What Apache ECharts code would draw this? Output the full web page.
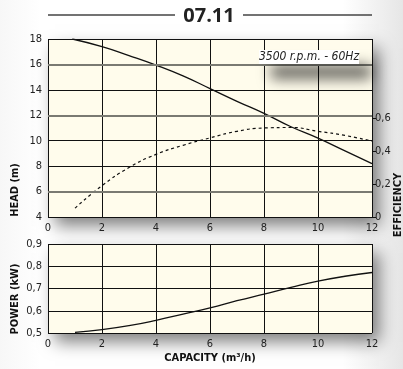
<!DOCTYPE html>
<html>
<head>
<meta charset="utf-8">
<script src="https://cdn.jsdelivr.net/npm/echarts@6/dist/echarts.min.js"></script>
<style>
  html, body { margin: 0; padding: 0; background: #fff; }
  #main { width: 403px; height: 369px; }
</style>
</head>
<body>
<div id="main"></div>
<script>
// capacity (m3/h) points
var capacity = [0.9, 2, 3, 4, 5, 6, 7, 8, 9, 10, 11, 12];
var head = [18, 17.4, 16.7, 15.95, 15.1, 14.1, 13.1, 12.15, 11.1, 10.2, 9.2, 8.2];
var effCap = [1, 2, 3, 4, 5, 6, 7, 8, 9, 10, 11, 12];
var efficiency = [0.054, 0.19, 0.3, 0.38, 0.435, 0.48, 0.52, 0.54, 0.543, 0.52, 0.495, 0.46];
var effTicks = [0, 0.2, 0.4, 0.6];
var powerCap = [1, 2, 3, 4, 5, 6, 7, 8, 9, 10, 11, 12];
var power = [0.503, 0.515, 0.533, 0.557, 0.585, 0.613, 0.645, 0.675, 0.705, 0.733, 0.755, 0.772];
var grayHeadLines = [6, 12, 16];

var font = "'DejaVu Sans Condensed', 'Liberation Sans Narrow', sans-serif";

function zip(xs, ys) {
  var out = [];
  for (var i = 0; i < xs.length; i++) out.push([xs[i], ys[i]]);
  return out;
}
function comma(v) {
  return String(Math.round(v * 10) / 10).replace('.', ',');
}

var chart = echarts.init(document.getElementById('main'));

var xAxisBase = {
  type: 'value', min: 0, max: 12, interval: 2,
  axisLine: { show: false },
  axisTick: { show: false },
  axisLabel: { color: '#222', fontFamily: font, fontSize: 11, margin: 6 },
  splitLine: { show: true, showMinLine: true, showMaxLine: true, lineStyle: { color: '#111', width: 1 } }
};
var gridBase = {
  show: true, backgroundColor: '#fffcec', borderWidth: 0,
  shadowColor: 'rgba(0,0,0,0.5)', shadowBlur: 16, shadowOffsetX: 7, shadowOffsetY: 9
};

chart.setOption({
  backgroundColor: new echarts.graphic.LinearGradient(0, 0, 1, 0, [
    { offset: 0, color: '#f7f7f7' },
    { offset: 0.1, color: '#ffffff' },
    { offset: 0.85, color: '#ffffff' },
    { offset: 1, color: '#e6e6e6' }
  ]),
  animation: false,
  grid: [
    Object.assign({ left: 48, top: 39, width: 324, height: 178 }, gridBase),
    Object.assign({ left: 48, top: 244, width: 324, height: 89 }, gridBase)
  ],
  xAxis: [
    Object.assign({ gridIndex: 0 }, xAxisBase),
    Object.assign({ gridIndex: 1 }, xAxisBase)
  ],
  yAxis: [
    {
      gridIndex: 0, type: 'value', min: 4, max: 18, interval: 2,
      axisLine: { show: false }, axisTick: { show: false },
      axisLabel: { color: '#222', fontFamily: font, fontSize: 11, margin: 6 },
      splitLine: { show: true, showMinLine: true, showMaxLine: true, lineStyle: { color: '#111', width: 1 } }
    },
    {
      gridIndex: 0, type: 'value', min: 0, max: 1.08, interval: 0.2, position: 'right',
      axisLine: { show: false },
      axisTick: { show: true, length: 4, customValues: effTicks, lineStyle: { color: '#111' } },
      axisLabel: {
        color: '#222', fontFamily: font, fontSize: 11, margin: 3,
        customValues: effTicks, formatter: comma
      },
      splitLine: { show: false }
    },
    {
      gridIndex: 1, type: 'value', min: 0.5, max: 0.9, interval: 0.1,
      axisLine: { show: false }, axisTick: { show: false },
      axisLabel: { color: '#222', fontFamily: font, fontSize: 11, margin: 6, formatter: comma },
      splitLine: { show: true, showMinLine: true, showMaxLine: true, lineStyle: { color: '#111', width: 1 } }
    }
  ],
  graphic: [
    { type: 'line', shape: { x1: 48, y1: 15, x2: 175, y2: 15 }, style: { stroke: '#444', lineWidth: 1.5 } },
    { type: 'line', shape: { x1: 243, y1: 15, x2: 372, y2: 15 }, style: { stroke: '#444', lineWidth: 1.5 } },
    {
      type: 'text', x: 209, y: 16,
      style: { text: '07.11', fontFamily: "'Open Sans', sans-serif", fontWeight: 'bold', fontSize: 20,
               fill: '#222', textAlign: 'center', textVerticalAlign: 'middle' }
    },
    {
      type: 'rect', shape: { x: 259, y: 50, width: 100, height: 14 },
      style: { fill: '#fff', shadowColor: 'rgba(0,0,0,0.6)', shadowBlur: 14,
               shadowOffsetX: 12, shadowOffsetY: 15 }, z: 6
    },
    {
      type: 'text', x: 309, y: 57,
      style: { text: '3500 r.p.m. - 60Hz', fontFamily: font, fontStyle: 'italic', fontSize: 12,
               fill: '#222', textAlign: 'center', textVerticalAlign: 'middle' }, z: 7
    },
    {
      type: 'text', x: 15, y: 190, rotation: Math.PI / 2,
      style: { text: 'HEAD (m)', fontFamily: font, fontWeight: 'bold', fontSize: 11,
               fill: '#111', textAlign: 'center', textVerticalAlign: 'middle' }
    },
    {
      type: 'text', x: 15, y: 299, rotation: Math.PI / 2,
      style: { text: 'POWER (kW)', fontFamily: font, fontWeight: 'bold', fontSize: 11,
               fill: '#111', textAlign: 'center', textVerticalAlign: 'middle' }
    },
    {
      type: 'text', x: 398, y: 205, rotation: Math.PI / 2,
      style: { text: 'EFFICIENCY', fontFamily: font, fontWeight: 'bold', fontSize: 11,
               fill: '#111', textAlign: 'center', textVerticalAlign: 'middle' }
    },
    {
      type: 'text', x: 210, y: 358,
      style: { text: 'CAPACITY (m³/h)', fontFamily: font, fontWeight: 'bold', fontSize: 11,
               fill: '#111', textAlign: 'center', textVerticalAlign: 'middle' }
    }
  ],
  series: [
    {
      type: 'line', xAxisIndex: 0, yAxisIndex: 0, data: zip(capacity, head),
      smooth: true, showSymbol: false, lineStyle: { color: '#111', width: 1.3 },
      markLine: {
        silent: true, symbol: 'none', label: { show: false },
        lineStyle: { color: '#7a7a72', width: 2, type: 'solid' },
        data: grayHeadLines.map(function (v) { return { yAxis: v }; })
      },
      z: 3
    },
    {
      type: 'line', xAxisIndex: 0, yAxisIndex: 1, data: zip(effCap, efficiency),
      smooth: true, showSymbol: false, lineStyle: { color: '#111', width: 1.2, type: [3, 3] },
      z: 3
    },
    {
      type: 'line', xAxisIndex: 1, yAxisIndex: 2, data: zip(powerCap, power),
      smooth: true, showSymbol: false, lineStyle: { color: '#111', width: 1.3 },
      z: 3
    }
  ]
});
</script>
</body>
</html>
